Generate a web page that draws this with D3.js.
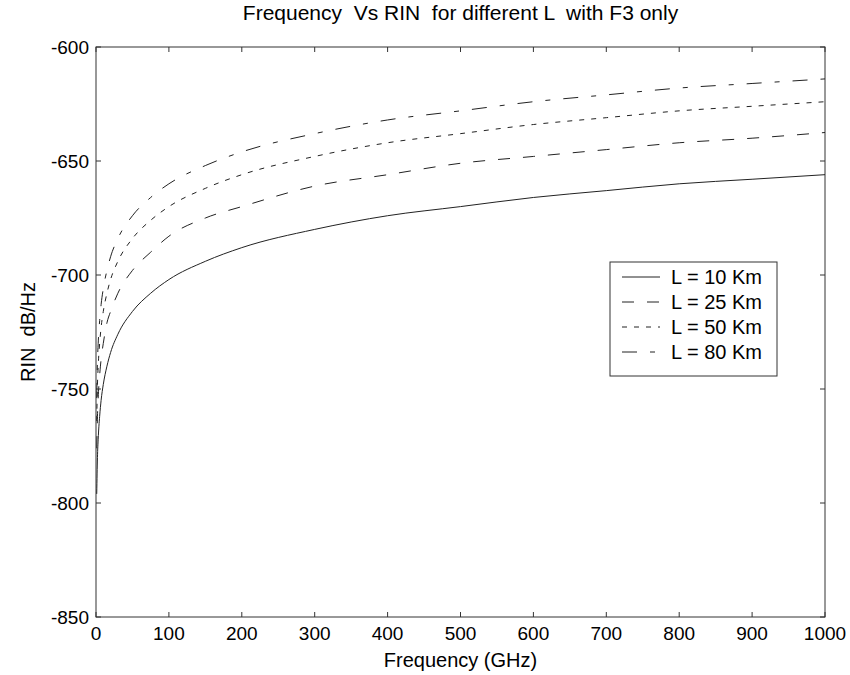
<!DOCTYPE html>
<html>
<head>
<meta charset="utf-8">
<script src="https://cdn.jsdelivr.net/npm/d3@7"></script>
<style>
  html, body { margin: 0; padding: 0; background: #fff; }
  svg { display: block; }
  text { font-family: "Liberation Sans", Arial, Helvetica, sans-serif; fill: #000; }
</style>
</head>
<body>
<svg id="chart" width="850" height="675"></svg>
<script>
// ---- Data ----
const freqs = [1, 2, 3, 5, 7, 10, 15, 20, 30, 50, 75, 100, 150, 200, 300, 400, 500, 600, 700, 800, 900, 1000];
const rinL10 = [-796, -780, -772, -762, -755, -748, -740, -734, -726, -716, -708, -702, -694, -688, -680, -674, -670, -666, -663, -660, -658, -656];
const rinL25 = [-776, -762, -754, -744, -737, -730, -721, -716, -708, -698, -690, -683, -675, -670, -661, -656, -651, -648, -645, -642, -640, -637.5];
const rinL50 = [-764, -748, -740, -730, -723, -716, -708, -702, -694, -684, -676, -670, -662, -656, -648, -642, -638, -634, -631, -628, -626, -624];
const rinL80 = [-754, -738, -730, -720, -713, -706, -698, -692, -684, -674, -666, -660, -652, -646, -638, -632, -628, -624, -621, -618, -616, -614];
const seriesNames = ["L = 10 Km", "L = 25 Km", "L = 50 Km", "L = 80 Km"];
const xTicks = [0, 100, 200, 300, 400, 500, 600, 700, 800, 900, 1000];
const yTicks = [-600, -650, -700, -750, -800, -850];
const titleText = "Frequency  Vs RIN  for different L  with F3 only";
const xLabel = "Frequency (GHz)";
const yLabel = "RIN  dB/Hz";

// ---- Layout ----
const svg = d3.select("#chart");
const pL = 96, pR = 825, pT = 47, pB = 617;
const x = d3.scaleLinear().domain([0, 1000]).range([pL, pR]);
const y = d3.scaleLinear().domain([-850, -600]).range([pB, pT]);

const series = [rinL10, rinL25, rinL50, rinL80];
const dashes = [null, "12,13", "5,7", "15,13,5,13"];

// frame
svg.append("rect").attr("x", pL).attr("y", pT).attr("width", pR - pL).attr("height", pB - pT)
  .attr("fill", "none").attr("stroke", "#333").attr("stroke-width", 1);

const tl = 5;
const axG = svg.append("g").attr("stroke", "#333").attr("stroke-width", 1);
xTicks.forEach(t => {
  axG.append("line").attr("x1", x(t)).attr("x2", x(t)).attr("y1", pB).attr("y2", pB - tl);
  axG.append("line").attr("x1", x(t)).attr("x2", x(t)).attr("y1", pT).attr("y2", pT + tl);
});
yTicks.forEach(t => {
  axG.append("line").attr("x1", pL).attr("x2", pL + tl).attr("y1", y(t)).attr("y2", y(t));
  axG.append("line").attr("x1", pR).attr("x2", pR - tl).attr("y1", y(t)).attr("y2", y(t));
});

svg.append("g").selectAll("text").data(xTicks).join("text")
  .attr("x", d => x(d)).attr("y", 640).attr("text-anchor", "middle")
  .attr("font-size", 19).text(d => d);
svg.append("g").selectAll("text").data(yTicks).join("text")
  .attr("x", 89).attr("y", d => y(d) + 7).attr("text-anchor", "end")
  .attr("font-size", 19).text(d => d);

// lines
const lineGen = d3.line().x(d => x(d[0])).y(d => y(d[1])).curve(d3.curveMonotoneX);
const lg = svg.append("g");
series.forEach((s, i) => {
  const pts = freqs.map((f, j) => [f, s[j]]);
  lg.append("path").attr("d", lineGen(pts))
    .attr("fill", "none").attr("stroke", "#222").attr("stroke-width", 1)
    .attr("stroke-dasharray", dashes[i]);
});

// legend
const leg = svg.append("g");
leg.append("rect").attr("x", 610).attr("y", 262).attr("width", 167).attr("height", 114)
  .attr("fill", "#fff").attr("stroke", "#333").attr("stroke-width", 1);
seriesNames.forEach((n, i) => {
  const yy = 277 + i * 25;
  leg.append("line").attr("x1", 622).attr("x2", 660).attr("y1", yy).attr("y2", yy)
    .attr("stroke", "#222").attr("stroke-width", 1).attr("stroke-dasharray", dashes[i]);
  leg.append("text").attr("x", 671).attr("y", yy + 7).attr("font-size", 20).text(n);
});

// titles
svg.append("text").attr("x", (pL + pR) / 2).attr("y", 20).attr("text-anchor", "middle")
  .attr("font-size", 21).style("white-space", "pre").text(titleText);
svg.append("text").attr("x", (pL + pR) / 2).attr("y", 667).attr("text-anchor", "middle")
  .attr("font-size", 20).text(xLabel);
svg.append("text").attr("transform", `translate(35, ${(pT + pB) / 2}) rotate(-90)`)
  .attr("text-anchor", "middle").attr("font-size", 20).style("white-space", "pre").text(yLabel);
</script>
</body>
</html>
